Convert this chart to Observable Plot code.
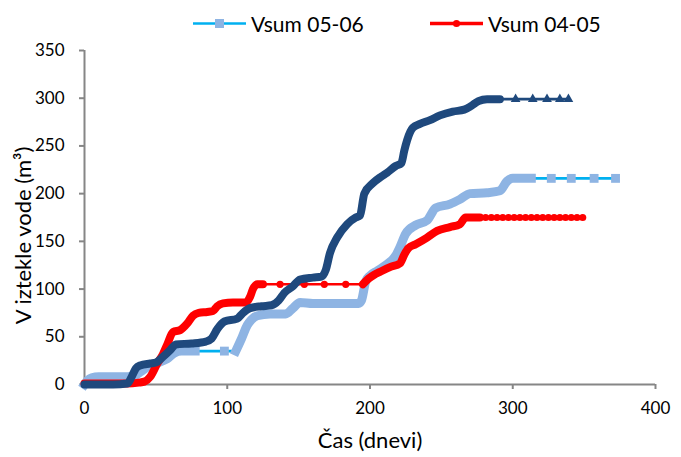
<!DOCTYPE html>
<html>
<head>
<meta charset="utf-8">
<script src="https://cdn.jsdelivr.net/npm/d3@7"></script>
<script src="https://cdn.jsdelivr.net/npm/@observablehq/plot@0.6"></script>
<style>
  body { margin: 0; background: #fff; font-family: Lato, "Open Sans", sans-serif; }
  #legend { position: relative; width: 681px; height: 40px; font-size: 21px; color: #000; }
  .item { position: absolute; top: 9px; display: flex; align-items: center; height: 28px; }
  .item svg { margin-right: 5px; }
</style>
</head>
<body>
<div id="legend"></div>
<div id="chart"></div>
<script>
// ---- tick values ----
const xTicks = [0, 100, 200, 300, 400];
const yTicks = [0, 50, 100, 150, 200, 250, 300, 350];

// ---- Vsum 05-06 (light blue, squares) ----
const lbDays = [0, 2, 5, 10, 20, 30, 35, 39, 45, 52, 58, 63, 68, 77.5, 98, 106, 110, 114, 117, 121,
  130, 141, 146, 151, 160, 175, 192, 194, 197, 200, 205, 212, 218, 221, 225, 232, 240, 246, 256, 263,
  270, 282, 291, 296, 300, 313, 327, 341, 357, 372];
const lbVals = [0, 4, 7, 8, 8, 8, 9, 13, 19, 23, 27, 33, 35, 35, 35, 35, 48, 62, 68, 72,
  74, 74, 80, 86, 85, 85, 85, 88, 108, 114, 119, 126, 135, 144, 158, 167, 172, 185, 189, 194,
  200, 201, 203, 213, 216, 216, 216, 216, 216, 216];
const lbMarkerDays = [98, 327, 341, 357, 372];

// ---- Vsum 04-05 (red, circles) ----
const rdDays = [0, 10, 20, 30, 38, 42, 46, 51, 55, 58, 62, 67, 72, 76, 80, 86, 90, 93, 97, 104,
  113, 116, 118, 121, 125, 137, 154, 168, 183, 195, 199, 203, 207, 214, 221, 224, 227, 232, 240, 247,
  256, 263, 267, 277, 281, 285, 289, 293, 297, 301, 305, 309, 313, 317, 321, 325, 329, 333, 337, 341,
  345, 349];
const rdVals = [1, 1, 1, 1, 2, 3, 8, 22, 32, 42, 55, 57, 64, 72, 75, 76, 77, 82, 85, 86,
  86, 92, 100, 105, 105, 105, 105, 105, 105, 105, 111, 115, 118, 123, 127, 136, 143, 147, 154, 161,
  165, 168, 175, 175, 175, 175, 175, 175, 175, 175, 175, 175, 175, 175, 175, 175, 175, 175, 175, 175,
  175, 175];
const rdMarkerDays = [137, 154, 168, 183, 281, 285, 289, 293, 297, 301, 305, 309, 313, 317, 321, 325, 329, 333, 337, 341, 345, 349];

// ---- third series (dark blue, triangles) ----
const dbDays = [0, 10, 20, 30, 33, 36, 39, 46, 50, 55, 60, 64, 75, 85, 89, 93, 98, 107, 111, 116,
  124, 131, 136, 140, 146, 151, 160, 166, 169, 172, 177, 184, 190, 193, 196, 202, 208, 212, 218, 222,
  224, 226, 230, 235, 242, 249, 258, 266, 271, 276, 282, 291, 302, 314, 324, 333, 339];
const dbVals = [0, 0, 0, 1, 8, 17, 20, 22, 23, 29, 36, 42, 43, 45, 48, 58, 66, 69, 75, 80,
  82, 83, 88, 96, 103, 110, 112, 113, 120, 138, 154, 168, 175, 177, 200, 211, 218, 222, 229, 232,
  245, 256, 269, 273, 277, 282, 286, 288, 292, 297, 299, 299, 299, 299, 299, 299, 299];
const dbMarkerDays = [302, 314, 324, 333, 339];

const legendLabels = ["Vsum 05-06", "Vsum 04-05"];

// ---- build tables ----
function build(days, vals, markerDays) {
  const mset = new Set(markerDays);
  let run = 0;
  return days.map((d, i) => {
    const isMarker = mset.has(d);
    const p = {day: d, val: vals[i], run, marker: isMarker};
    if (isMarker) run++;
    return p;
  });
}
const lb = build(lbDays, lbVals, lbMarkerDays);
const rd = build(rdDays, rdVals, rdMarkerDays);
const db = build(dbDays, dbVals, dbMarkerDays);

const styles = {
  lb: {line: "#00B0F0", mark: "#8EB4E3", symbol: "square", r: 5, band: 9, cap: "square"},
  rd: {line: "#FF0000", mark: "#FF0000", symbol: "circle", r: 3.6, band: 8, cap: "round"},
  db: {line: "#1F497D", mark: "#1F497D", symbol: "triangle", r: 3.6, band: 8, cap: "round"}
};

function seriesMarks(data, s) {
  return [
    Plot.line(data, {x: "day", y: "val", stroke: s.line, strokeWidth: 2.6, curve: "monotone-x"}),
    Plot.line(data.filter(d => !d.marker), {x: "day", y: "val", z: "run", stroke: s.mark,
      strokeWidth: s.band, strokeLinejoin: "round", strokeLinecap: s.cap, curve: "monotone-x"}),
    Plot.dot(data.filter(d => d.marker), {x: "day", y: "val", symbol: s.symbol, r: s.r, fill: s.mark, stroke: "none"})
  ];
}

const axisGray = "#868686";
const chart = Plot.plot({
  width: 681,
  height: 417,
  marginLeft: 84,
  marginRight: 26,
  marginTop: 10,
  marginBottom: 73,
  style: {fontFamily: "Lato, 'Open Sans', sans-serif", color: "#000", background: "#fff"},
  x: {domain: [0, 400]},
  y: {domain: [0, 350]},
  marks: [
    Plot.axisX({ticks: xTicks, tickSize: 5, tickPadding: 12, stroke: axisGray, strokeWidth: 2, fontSize: 17, fill: "#000", label: null}),
    Plot.axisY({ticks: yTicks, tickSize: 5, tickPadding: 15, stroke: axisGray, strokeWidth: 2, fontSize: 17, fill: "#000", label: null}),
    Plot.ruleX([0], {stroke: axisGray, strokeWidth: 2}),
    Plot.ruleY([0], {stroke: axisGray, strokeWidth: 2}),
    ...seriesMarks(lb, styles.lb),
    ...seriesMarks(rd, styles.rd),
    ...seriesMarks(db, styles.db),
    Plot.text(["Čas (dnevi)"], {frameAnchor: "bottom", textAnchor: "middle", lineAnchor: "middle", dy: 56, fontSize: 22, fill: "#000"}),
    Plot.text(["V iztekle vode (m³)"], {frameAnchor: "left", textAnchor: "middle", lineAnchor: "middle", dx: -61, dy: 18, rotate: -90, fontSize: 22, fill: "#000"})
  ]
});
document.getElementById("chart").appendChild(chart);

// ---- legend ----
const legend = document.getElementById("legend");
const legendStyles = [styles.lb, styles.rd];
const legendLeft = [193, 430];
legendLabels.forEach((lab, i) => {
  const s = legendStyles[i];
  const item = document.createElement("div");
  item.className = "item";
  item.style.left = legendLeft[i] + "px";
  let sym;
  if (s.symbol === "square") sym = `<rect x="22" y="3" width="9" height="9" fill="${s.mark}"/>`;
  else sym = `<circle cx="26.5" cy="7.5" r="3.6" fill="${s.mark}"/>`;
  const w = i === 0 ? 2.6 : 3.5;
  item.innerHTML = `<svg width="53" height="15"><line x1="0" x2="53" y1="7.5" y2="7.5" stroke="${s.line}" stroke-width="${w}"/>${sym}</svg><span>${lab}</span>`;
  legend.appendChild(item);
});
</script>
</body>
</html>
